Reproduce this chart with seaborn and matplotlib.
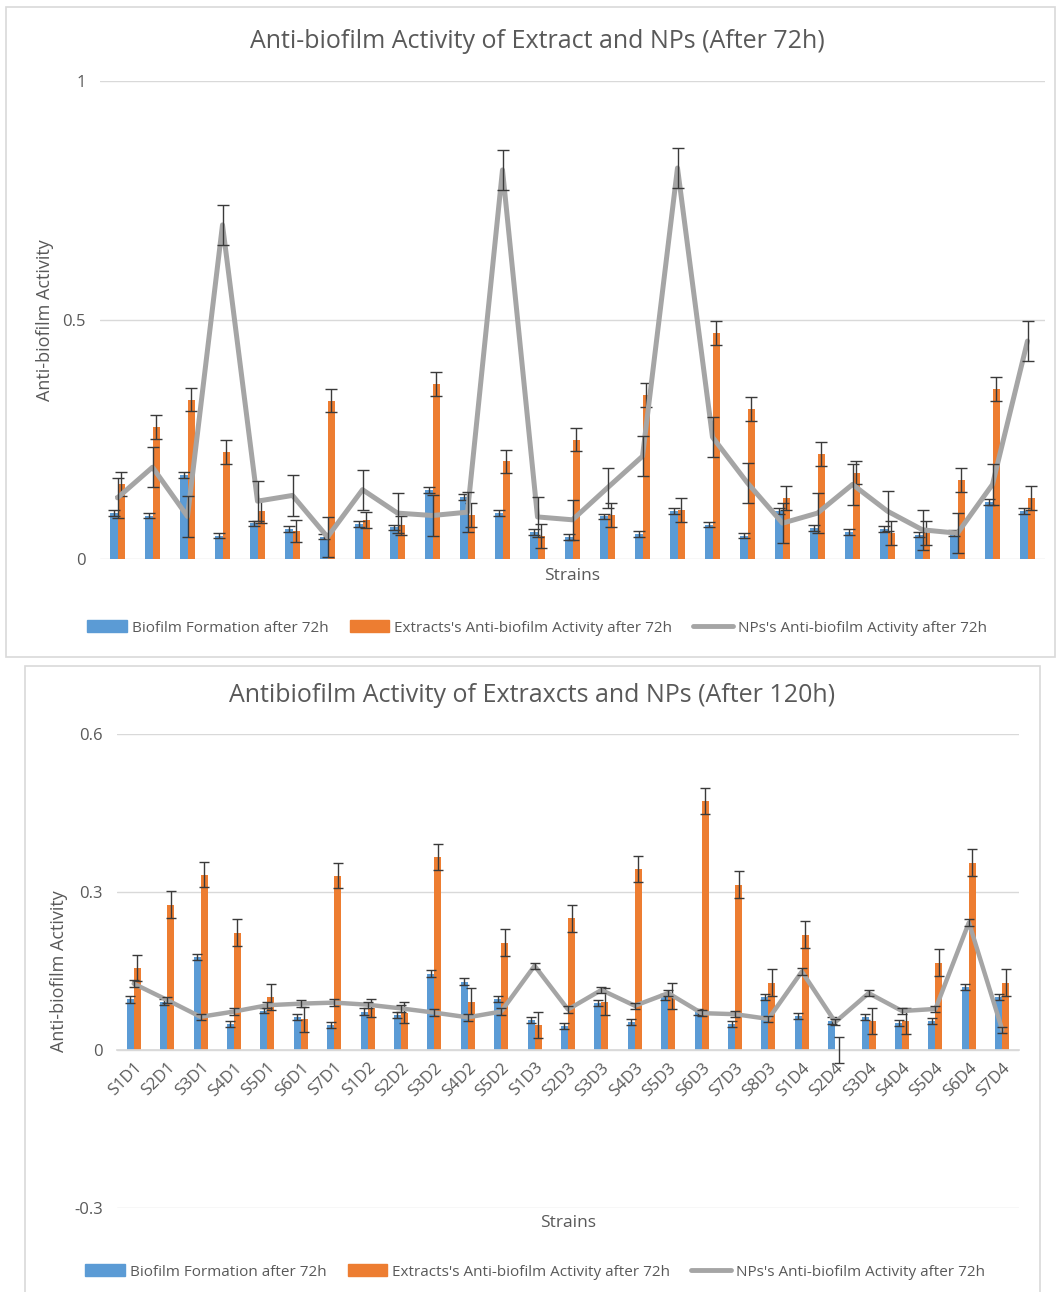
import numpy as np
import pandas as pd
import seaborn as sns
import matplotlib.pyplot as plt
from matplotlib.patches import Rectangle, Patch
from matplotlib.lines import Line2D

# Data
strains = ["S1D1", "S2D1", "S3D1", "S4D1", "S5D1", "S6D1", "S7D1",
           "S1D2", "S2D2", "S3D2", "S4D2", "S5D2",
           "S1D3", "S2D3", "S3D3", "S4D3", "S5D3", "S6D3", "S7D3", "S8D3",
           "S1D4", "S2D4", "S3D4", "S4D4", "S5D4", "S6D4", "S7D4"]

biofilm = [0.096, 0.091, 0.176, 0.049, 0.075, 0.063, 0.047,
           0.073, 0.066, 0.145, 0.130, 0.097,
           0.057, 0.046, 0.089, 0.053, 0.101, 0.072, 0.049, 0.101,
           0.065, 0.056, 0.063, 0.051, 0.055, 0.120, 0.101]
biofilm_err = [0.007, 0.005, 0.006, 0.006, 0.005, 0.006, 0.006,
               0.006, 0.006, 0.006, 0.006, 0.006,
               0.006, 0.006, 0.006, 0.006, 0.006, 0.006, 0.006, 0.006,
               0.006, 0.006, 0.006, 0.006, 0.006, 0.006, 0.006]

extract_72 = [0.156, 0.276, 0.333, 0.223, 0.101, 0.058, 0.331,
              0.082, 0.071, 0.366, 0.092, 0.204,
              0.048, 0.250, 0.092, 0.344, 0.103, 0.473, 0.314, 0.128,
              0.219, 0.180, 0.054, 0.054, 0.166, 0.356, 0.128]
extract_120 = [0.156, 0.276, 0.333, 0.223, 0.101, 0.058, 0.331,
               0.080, 0.071, 0.366, 0.092, 0.204,
               0.048, 0.250, 0.092, 0.344, 0.103, 0.473, 0.314, 0.128,
               0.219, 0.000, 0.055, 0.055, 0.166, 0.356, 0.128]
extract_err = [0.025, 0.025, 0.024, 0.025, 0.025, 0.023, 0.024,
               0.017, 0.020, 0.025, 0.025, 0.025,
               0.025, 0.025, 0.025, 0.025, 0.025, 0.025, 0.025, 0.025,
               0.025, 0.024, 0.025, 0.025, 0.025, 0.025, 0.025]

nps_72 = [0.128, 0.192, 0.089, 0.699, 0.121, 0.133, 0.046,
          0.145, 0.096, 0.091, 0.098, 0.814,
          0.088, 0.082, 0.149, 0.215, 0.818, 0.255, 0.159, 0.075,
          0.096, 0.156, 0.100, 0.061, 0.054, 0.156, 0.456]
nps_72_err = [0.042] * 27

nps_120 = [0.126, 0.095, 0.063, 0.073, 0.085, 0.088, 0.090,
           0.086, 0.079, 0.071, 0.062, 0.073,
           0.160, 0.077, 0.114, 0.084, 0.108, 0.070, 0.068, 0.059,
           0.149, 0.053, 0.108, 0.074, 0.078, 0.242, 0.038]
nps_120_err = [0.006] * 27

labels = ["Biofilm Formation after 72h",
          "Extracts's Anti-biofilm Activity after 72h",
          "NPs's Anti-biofilm Activity after 72h"]

BLUE = "#5B9BD5"
ORANGE = "#ED7D31"
GRAY = "#A5A5A5"
TXT = "#595959"
GRID = "#D9D9D9"

sns.set_theme(style="white")
plt.rcParams['font.family'] = ['Open Sans', 'DejaVu Sans']

W, H = 1056, 1292
fig = plt.figure(figsize=(W / 100, H / 100), dpi=100)

# chart frames
fig.add_artist(Rectangle((6 / W, 1 - 657 / H), 1049 / W, 650 / H, transform=fig.transFigure,
                         fill=False, ec=GRID, lw=1.2))
fig.add_artist(Rectangle((25 / W, -0.01), 1015 / W, 1 - 666 / H + 0.01, transform=fig.transFigure,
                         fill=False, ec=GRID, lw=1.2))


def draw(ax, extract, line, line_err, lw, cap):
    df = pd.DataFrame({"Strain": strains * 2,
                       "Value": biofilm + extract,
                       "Series": [labels[0]] * 27 + [labels[1]] * 27})
    sns.barplot(data=df, x="Strain", y="Value", hue="Series", palette=[BLUE, ORANGE],
                width=0.42, errorbar=None, saturation=1, legend=False, ax=ax,
                linewidth=0, zorder=2)
    x = np.arange(len(strains))
    ax.errorbar(x - 0.105, biofilm, yerr=biofilm_err, fmt="none", ecolor="#3A3A3A",
                elinewidth=1, capsize=cap, capthick=1, zorder=3)
    ax.errorbar(x + 0.105, extract, yerr=extract_err, fmt="none", ecolor="#3A3A3A",
                elinewidth=1, capsize=cap, capthick=1, zorder=3)
    sns.lineplot(x=x, y=line, color=GRAY, lw=lw, sort=False, ax=ax, zorder=4)
    ax.errorbar(x, line, yerr=line_err, fmt="none", ecolor="#3A3A3A",
                elinewidth=1, capsize=cap, capthick=1, zorder=5)
    ax.set_xlim(-0.5, len(strains) - 0.5)
    for s in ax.spines.values():
        s.set_visible(False)
    ax.yaxis.grid(True, color=GRID, lw=1, zorder=0)
    ax.set_axisbelow(True)
    ax.tick_params(axis="y", length=0, labelsize=12, labelcolor=TXT, pad=10)
    ax.set_xlabel("")
    ax.set_ylabel("Anti-biofilm Activity", fontsize=13, color=TXT)


# top chart (72h)
ax1 = fig.add_axes([100 / W, 1 - 559 / H, 945 / W, 478 / H])
draw(ax1, extract_72, nps_72, nps_72_err, 3.6, 4)
ax1.set_ylim(0, 1)
ax1.set_yticks([0, 0.5, 1])
ax1.set_yticklabels(["0", "0.5", "1"])
ax1.tick_params(axis="x", length=0, labelbottom=False)
ax1.yaxis.set_label_coords(-0.049, 0.5)
ax1.text(0.5, -0.036, "Strains", transform=ax1.transAxes, ha="center", va="center",
         fontsize=12.5, color=TXT)

# bottom chart (120h)
ax2 = fig.add_axes([117 / W, 1 - 1208 / H, 902 / W, 474 / H])
draw(ax2, extract_120, nps_120, nps_120_err, 3.2, 3.5)
ax2.set_ylim(-0.3, 0.6)
ax2.set_yticks([-0.3, 0, 0.3, 0.6])
ax2.set_yticklabels(["-0.3", "0", "0.3", "0.6"])
ax2.spines["bottom"].set_visible(True)
ax2.spines["bottom"].set_position(("data", 0))
ax2.spines["bottom"].set_color(GRID)
ax2.tick_params(axis="x", length=0, labelsize=12, labelcolor=TXT, pad=7)
for t in ax2.get_xticklabels():
    t.set_rotation(45)
    t.set_ha("right")
    t.set_va("top")
    t.set_rotation_mode("anchor")
ax2.yaxis.set_label_coords(-0.054, 0.5)
ax2.text(0.5, -0.032, "Strains", transform=ax2.transAxes, ha="center", va="center",
         fontsize=12.5, color=TXT)

# titles
fig.text(537 / W, 1 - 42 / H, "Anti-biofilm Activity of Extract and NPs (After 72h)",
         ha="center", va="center", fontsize=18, color=TXT)
fig.text(532 / W, 1 - 696 / H, "Antibiofilm Activity of Extraxcts and NPs (After 120h)",
         ha="center", va="center", fontsize=18, color=TXT)

# legends
handles = [Patch(color=BLUE), Patch(color=ORANGE), Line2D([], [], color=GRAY, lw=3.5)]
for cx, cy in [(537, 628), (535, 1272)]:
    fig.legend(handles, labels, loc="center", bbox_to_anchor=(cx / W, 1 - cy / H), ncol=3,
               frameon=False, fontsize=11, handlelength=2.6, handleheight=0.8,
               handletextpad=0.3, columnspacing=1.4, labelcolor=TXT)

fig.savefig("out.png", dpi=100)
